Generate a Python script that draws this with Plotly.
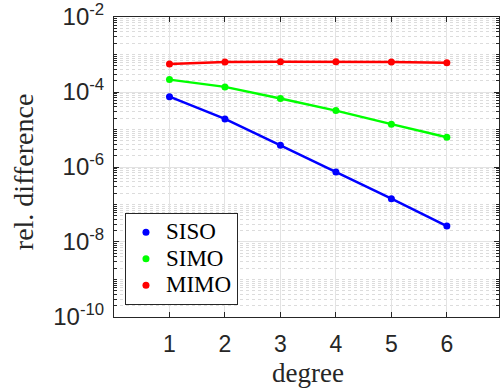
import plotly.graph_objects as go

degree = [1, 2, 3, 4, 5, 6]
siso = [7.5e-5, 1.92e-5, 3.8e-6, 7.4e-7, 1.43e-7, 2.66e-8]
simo = [2.14e-4, 1.37e-4, 6.7e-5, 3.19e-5, 1.39e-5, 6.2e-6]
mimo = [5.55e-4, 6.27e-4, 6.38e-4, 6.38e-4, 6.27e-4, 6.0e-4]

series = [("SISO", siso, "#0000ff"), ("SIMO", simo, "#00ff00"), ("MIMO", mimo, "#ff0000")]

ytickvals = [1e-10, 1e-8, 1e-6, 1e-4, 1e-2]
yticktext = ["10<sup>-10</sup>", "10<sup>-8</sup>", "10<sup>-6</sup>", "10<sup>-4</sup>", "10<sup>-2</sup>"]
yminorvals = [m * 10.0 ** e for e in range(-10, -2) for m in range(2, 10)] + \
             [10.0 ** e for e in (-9, -7, -5, -3)]
xtickvals = [1, 2, 3, 4, 5, 6]

fig = go.Figure()
for name, vals, col in series:
    fig.add_trace(go.Scatter(x=degree, y=vals, mode="lines+markers", name=name,
                             line=dict(color=col, width=2.5),
                             marker=dict(color=col, size=7), showlegend=False))
for name, vals, col in series:
    fig.add_trace(go.Scatter(x=[None], y=[None], mode="markers",
                             name='<span style="font-size:23px">' + name + '</span>',
                             marker=dict(color=col, size=7), showlegend=True))

axcol = "#262626"
top, bottom = 13, 317
fig.update_layout(
    width=500, height=392,
    margin=dict(l=114, r=0, t=top, b=392 - bottom),
    paper_bgcolor="white", plot_bgcolor="white",
    font=dict(family="Liberation Sans, Arial", color=axcol),
    showlegend=True,
    legend=dict(x=(125 - 114) / 386, y=(bottom - 305) / (bottom - top),
                xanchor="left", yanchor="bottom",
                bgcolor="white", bordercolor=axcol, borderwidth=1,
                font=dict(family="Liberation Serif, Times New Roman", size=18, color="#000000"),
                tracegroupgap=0, itemwidth=30),
    xaxis=dict(range=[0, 6.94], tickvals=xtickvals, ticks="inside", ticklen=5,
               tickcolor=axcol, linecolor=axcol, linewidth=1, mirror="ticks",
               showgrid=True, gridcolor="#e3e3e3", gridwidth=1, zeroline=False,
               tickfont=dict(size=23, family="Liberation Sans, Arial"),
               ticklabelstandoff=6),
    yaxis=dict(type="log", range=[-10.0005, -1.9995], tickvals=ytickvals, ticktext=yticktext,
               ticks="inside", ticklen=5, tickcolor=axcol, linecolor=axcol, linewidth=1,
               mirror="ticks", showgrid=True, gridcolor="#e3e3e3", gridwidth=1,
               zeroline=False, tickfont=dict(size=24, family="Liberation Sans, Arial"),
               ticklabelstandoff=4, ticklabeloverflow="allow",
               minor=dict(tickmode="array", tickvals=yminorvals, ticks="inside", ticklen=3,
                          tickcolor=axcol, showgrid=True,
                          gridcolor="#dcdcdc", griddash="dot", gridwidth=1)),
)

fig.add_annotation(text="degree", xref="x", yref="paper", x=3.5, y=0,
                   yshift=-56, showarrow=False, yanchor="middle", xanchor="center",
                   font=dict(family="Liberation Serif, Times New Roman", size=27, color=axcol))
fig.add_annotation(text="rel. difference", xref="paper", yref="paper",
                   x=(24 - 114) / 386, y=(bottom - 170) / (bottom - top), textangle=-90,
                   showarrow=False, xanchor="center", yanchor="middle",
                   font=dict(family="Liberation Serif, Times New Roman", size=28, color=axcol))

fig.write_html("out.html")
